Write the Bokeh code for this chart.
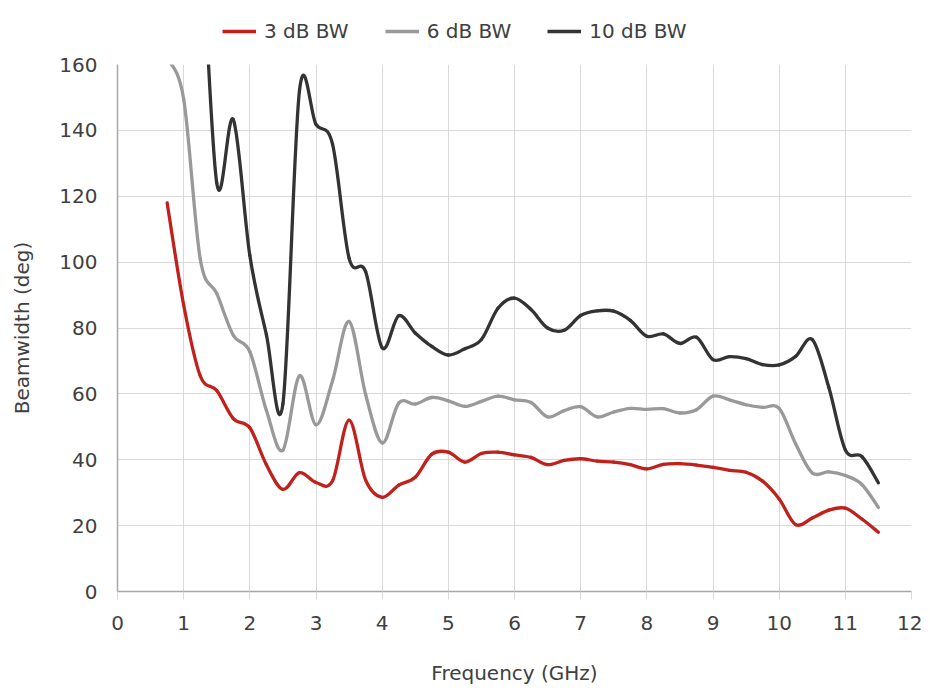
from bokeh.plotting import figure
from bokeh.layouts import column
from bokeh.models import Legend, LegendItem, FixedTicker, Range1d, ColumnDataSource
from bokeh.embed import file_html
from bokeh.resources import INLINE

# ---- data ----
freq = [0.75, 1.0, 1.25, 1.5, 1.75, 2.0, 2.25, 2.5, 2.75, 3.0, 3.25, 3.5, 3.75,
        4.0, 4.25, 4.5, 4.75, 5.0, 5.25, 5.5, 5.75, 6.0, 6.25, 6.5, 6.75,
        7.0, 7.25, 7.5, 7.75, 8.0, 8.25, 8.5, 8.75, 9.0, 9.25, 9.5, 9.75,
        10.0, 10.25, 10.5, 10.75, 11.0, 11.25, 11.5]

bw3 = [118, 87, 65.5, 61, 52.5, 49.7, 38.5, 31, 36.1, 33.1, 33.6, 52, 33.8,
       28.6, 32.3, 34.7, 41.7, 42.3, 39.3, 41.9, 42.3, 41.5, 40.7, 38.5, 39.8,
       40.3, 39.6, 39.3, 38.5, 37.2, 38.6, 38.8, 38.4, 37.7, 36.8, 36.2, 33.5,
       28.1, 20.3, 22.3, 24.7, 25.3, 22, 18]

bw6 = [162, 149.5, 101, 90.5, 77.8, 72.8, 55, 42.9, 65.5, 50.6, 64, 82, 59.8,
       45.1, 57.2, 56.9, 58.9, 57.9, 56.2, 57.7, 59.3, 58.2, 57.4, 53, 54.9,
       56.1, 53, 54.5, 55.6, 55.3, 55.5, 54.2, 55.2, 59.3, 58.2, 56.7, 55.9,
       55.6, 44.8, 36, 36.3, 35.2, 32.5, 25.5]

freq10 = freq[2:]
bw10 = [210, 124, 143.3, 102, 78, 57, 152, 141.8, 135.8, 101.2, 97.1,
        74, 83.7, 78.5, 74.4, 71.8, 73.7, 76.5, 86, 89.1, 85.6, 80, 79.3,
        83.8, 85.2, 85.1, 82.3, 77.5, 78.2, 75.3, 77.2, 70.4, 71.3, 70.7, 68.9,
        68.8, 71.4, 76.5, 62, 43, 41, 33]

series_names = ["3 dB BW", "6 dB BW", "10 dB BW"]
series_colors = ["#C0211D", "#999999", "#333333"]
x_ticks = list(range(0, 13))
y_ticks = list(range(0, 161, 20))

FONT = "DejaVu Sans"
TXT = "#404040"
W = 922
LW = 3.3


def smooth_source(xs, ys):
    """Cubic Bezier segments through the data points (Catmull-Rom style)."""
    n = len(xs)
    d = dict(x0=[], y0=[], x1=[], y1=[], cx0=[], cy0=[], cx1=[], cy1=[])
    for i in range(n - 1):
        a = i - 1 if i > 0 else i
        b = i + 2 if i + 2 < n else i + 1
        d["x0"].append(xs[i]); d["y0"].append(ys[i])
        d["x1"].append(xs[i + 1]); d["y1"].append(ys[i + 1])
        d["cx0"].append(xs[i] + (xs[i + 1] - xs[a]) / 6)
        d["cy0"].append(ys[i] + (ys[i + 1] - ys[a]) / 6)
        d["cx1"].append(xs[i + 1] - (xs[b] - xs[i]) / 6)
        d["cy1"].append(ys[i + 1] - (ys[b] - ys[i]) / 6)
    return ColumnDataSource(d)


series = [(freq, bw3), (freq, bw6), (freq10, bw10)]

p = figure(width=W, height=638, output_backend="svg", toolbar_location=None,
           x_range=Range1d(0, 12), y_range=Range1d(0, 160),
           min_border_left=117, min_border_right=11, min_border_top=14,
           min_border_bottom=97)
p.outline_line_color = None
p.background_fill_color = "white"

for (xs, ys), col in zip(series, series_colors):
    p.bezier(x0="x0", y0="y0", x1="x1", y1="y1", cx0="cx0", cy0="cy0",
             cx1="cx1", cy1="cy1", source=smooth_source(xs, ys),
             line_color=col, line_width=LW, line_cap="round")

# axes
p.xaxis.ticker = FixedTicker(ticks=x_ticks)
p.yaxis.ticker = FixedTicker(ticks=y_ticks)
p.xaxis.minor_tick_line_color = None
p.yaxis.minor_tick_line_color = None
p.xaxis.major_tick_in = 0
p.xaxis.major_tick_out = 8
p.xaxis.major_tick_line_color = "#d9d9d9"
p.yaxis.major_tick_in = 0
p.yaxis.major_tick_out = 0
p.xaxis.axis_line_color = "#a6a6a6"
p.yaxis.axis_line_color = "#a6a6a6"
p.xaxis.axis_line_width = 1.5
p.yaxis.axis_line_width = 1.5
for ax in (p.xaxis, p.yaxis):
    ax.major_label_text_font = FONT
    ax.major_label_text_font_size = "20px"
    ax.major_label_text_color = TXT
    ax.axis_label_text_font = FONT
    ax.axis_label_text_font_size = "20px"
    ax.axis_label_text_font_style = "normal"
    ax.axis_label_text_color = TXT
p.xaxis.major_label_standoff = 16
p.yaxis.major_label_standoff = 20
p.xaxis.axis_label = "Frequency (GHz)"
p.yaxis.axis_label = "Beamwidth (deg)"
p.xaxis.axis_label_standoff = 28
p.yaxis.axis_label_standoff = 22

p.xgrid.ticker = FixedTicker(ticks=x_ticks)
p.ygrid.ticker = FixedTicker(ticks=y_ticks)
p.grid.grid_line_color = "#d9d9d9"
p.grid.grid_line_width = 1

# ---- legend strip above the chart (key lines kept outside its ranges) ----
top = figure(width=W, height=50, output_backend="svg", toolbar_location=None,
             x_axis_type=None, y_axis_type=None,
             x_range=Range1d(0, 1), y_range=Range1d(-2, -1),
             min_border_left=0, min_border_right=0, min_border_top=0,
             min_border_bottom=0)
top.outline_line_color = None
top.grid.visible = False
key_renderers = [top.line(x=xs, y=ys, line_color=c, line_width=LW)
                 for (xs, ys), c in zip(series, series_colors)]

legend = Legend(items=[LegendItem(label=n, renderers=[r])
                       for n, r in zip(series_names, key_renderers)],
                orientation="horizontal", location=(105, 7))
legend.label_text_font = FONT
legend.label_text_font_size = "20px"
legend.label_text_color = TXT
legend.glyph_width = 34
legend.glyph_height = 22
legend.label_standoff = 8
legend.spacing = 36
legend.padding = 0
legend.margin = 0
legend.border_line_color = None
legend.background_fill_alpha = 0
top.add_layout(legend)

layout = column(top, p, spacing=0)
open("out.html", "w").write(file_html(layout, INLINE))
